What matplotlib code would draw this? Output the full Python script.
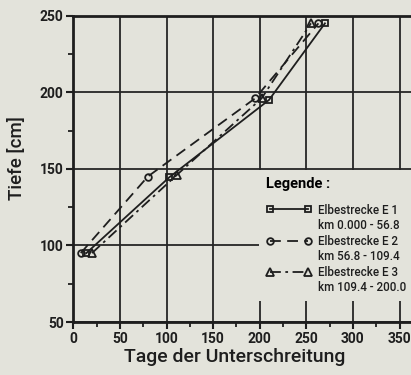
import matplotlib
matplotlib.use("Agg")
import matplotlib.pyplot as plt
from matplotlib.lines import Line2D
from matplotlib.ticker import MultipleLocator

# Data (Tage der Unterschreitung, Tiefe [cm])
e1_days = [14, 103, 210, 270]
e1_depth = [95, 144.5, 195, 245]
e2_days = [8, 80, 195, 263]
e2_depth = [95, 145, 196, 245]
e3_days = [20, 111, 202, 255]
e3_depth = [95, 146, 196, 245]

labels_main = ["Elbestrecke E 1", "Elbestrecke E 2", "Elbestrecke E 3"]
labels_km = ["km 0.000 - 56.8", "km 56.8 - 109.4", "km 109.4 - 200.0"]
xticks = [0, 50, 100, 150, 200, 250, 300, 350]
yticks = [50, 100, 150, 200, 250]

BG = "#e3e3db"
INK = "#1e1e1e"

plt.rcParams["font.family"] = ["Roboto", "DejaVu Sans"]
fig = plt.figure(figsize=(4.11, 3.75), dpi=100, facecolor=BG)
ax = fig.add_axes([73.3 / 411, 1 - 322 / 375, 349.5 / 411, (322 - 15.7) / 375])
ax.set_facecolor(BG)
ax.set_xlim(0, 375)
ax.set_ylim(50, 250)

ax.set_xticks(xticks)
ax.set_yticks(yticks)
ax.xaxis.set_minor_locator(MultipleLocator(25))
ax.yaxis.set_minor_locator(MultipleLocator(25))
ax.tick_params(which="major", direction="out", length=5, width=1.5, color=INK,
               labelsize=10, labelcolor=INK, pad=2)
ax.tick_params(which="minor", direction="out", length=3.5, width=1.3, color=INK)
for lab in ax.get_xticklabels() + ax.get_yticklabels():
    lab.set_fontweight("bold")

for s in ["left", "bottom", "top"]:
    ax.spines[s].set_linewidth(2.0)
    ax.spines[s].set_color(INK)
ax.spines["right"].set_visible(False)

ax.grid(True, which="major", color="#262626", linewidth=1.3)
ax.set_axisbelow(True)

ms = 4.8
l1, = ax.plot(e1_days, e1_depth, color=INK, lw=1.3, ls="-", marker="s", ms=ms,
              mfc="none", mec=INK, mew=1.3)
l2, = ax.plot(e2_days, e2_depth, color=INK, lw=1.3, ls=(0, (6, 3.5)), marker="o",
              ms=ms, mfc="none", mec=INK, mew=1.3)
l3, = ax.plot(e3_days, e3_depth, color=INK, lw=1.3, ls=(0, (6, 2.5, 1.5, 2.5)),
              marker="^", ms=ms + 0.5, mfc="none", mec=INK, mew=1.3)

blank = Line2D([], [], ls="none")
handles = [l1, blank, l2, blank, l3, blank]
labs = [labels_main[0], labels_km[0], labels_main[1], labels_km[1],
        labels_main[2], labels_km[2]]
leg = ax.legend(handles, labs, title="Legende :", loc="upper left",
                bbox_to_anchor=((259 - 73.3) / 349.5, (322 - 170) / 306.3),
                frameon=True, facecolor=BG, edgecolor="none", framealpha=1,
                fancybox=False, numpoints=2, handlelength=3.9, handletextpad=0.6,
                labelspacing=0.22, borderpad=0.6, borderaxespad=0,
                prop=dict(size=8.4, weight="medium"),
                alignment="left")
leg.get_title().set_fontsize(10.5)
leg.get_title().set_fontweight("bold")
leg._legend_box.sep = 9
for t in leg.get_texts():
    t.set_color(INK)
leg.set_zorder(5)

fig.text(235 / 411, 1 - 357 / 375, "Tage der Unterschreitung", ha="center", va="center",
         fontsize=14, color=INK, fontweight="medium")
fig.text(17 / 411, 1 - 158 / 375, "Tiefe [cm]", ha="center", va="center",
         rotation=90, fontsize=13.5, color=INK, fontweight="medium")

fig.savefig("out.png", dpi=100, facecolor=BG)
